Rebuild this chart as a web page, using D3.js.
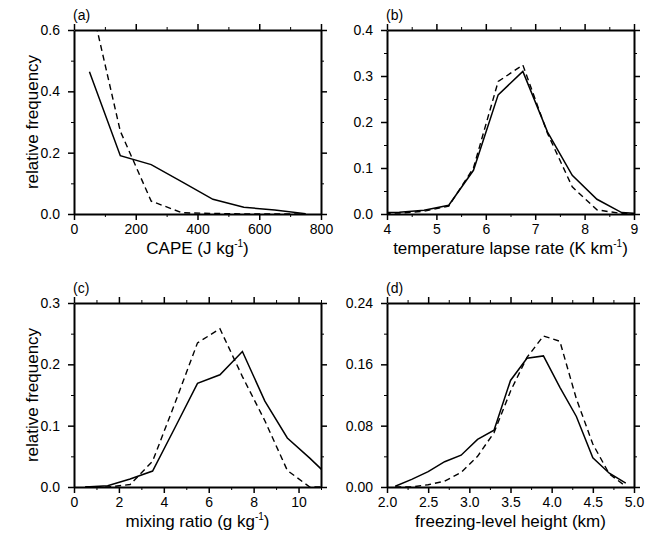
<!DOCTYPE html>
<html>
<head>
<meta charset="utf-8">
<script src="https://cdn.jsdelivr.net/npm/d3@7"></script>
<style>
  body { margin: 0; background: #fff; }
  svg { display: block; font-family: "Liberation Sans", Arial, Helvetica, sans-serif; }
  .axis path, .axis line { stroke: #000; }
  .axis text { fill: #000; }
</style>
</head>
<body>
<div id="chart"></div>
<script>
// bin centres and relative frequencies
const capeBins = [50, 150, 250, 350, 450, 550, 650, 750];
const capeSolid = [0.464, 0.19, 0.161, 0.105, 0.048, 0.022, 0.013, 0.001];
const capeDashed = [0.71, 0.27, 0.042, 0.004, 0.002, 0, 0, 0];

const lapseBins = [3.75, 4.25, 4.75, 5.25, 5.75, 6.25, 6.75, 7.25, 7.75, 8.25, 8.75, 9.25];
const lapseSolid = [0.002, 0.004, 0.008, 0.019, 0.095, 0.259, 0.31, 0.178, 0.084, 0.032, 0.003, 0];
const lapseDashed = [0.001, 0.002, 0.006, 0.017, 0.1, 0.288, 0.324, 0.175, 0.059, 0.009, 0.001, 0];

const mixBins = [0.5, 1.5, 2.5, 3.5, 4.5, 5.5, 6.5, 7.5, 8.5, 9.5, 10.5, 11.5];
const mixSolid = [0, 0.002, 0.013, 0.026, 0.097, 0.169, 0.183, 0.221, 0.14, 0.08, 0.047, 0.012];
const mixDashed = [0, 0, 0.004, 0.042, 0.137, 0.235, 0.258, 0.18, 0.108, 0.027, 0, 0];

const frzBins = [2.1, 2.3, 2.5, 2.7, 2.9, 3.1, 3.3, 3.5, 3.7, 3.9, 4.1, 4.3, 4.5, 4.7, 4.9];
const frzSolid = [0.001, 0.01, 0.02, 0.033, 0.0415, 0.062, 0.074, 0.139, 0.168, 0.171, 0.13, 0.092, 0.038, 0.018, 0.005];
const frzDashed = [0, 0, 0.003, 0.0075, 0.019, 0.04, 0.071, 0.125, 0.169, 0.197, 0.19, 0.115, 0.056, 0.017, 0.001];

const width = 653;
const height = 542;

const panels = [
    { tag: "(a)", x0: 74, y0: 30, bins: capeBins, solid: capeSolid, dashed: capeDashed,
      xDomain: [0, 800], xMajor: d3.range(0, 801, 200), xMinor: d3.range(100, 800, 200), xFmt: d3.format("d"),
      yDomain: [0, 0.6], yMajor: [0, 0.2, 0.4, 0.6], yMinor: [0.1, 0.3, 0.5], yFmt: d3.format(".1f"),
      xTitle: ["CAPE (J kg", "-1", ")"], yTitle: "relative frequency" },
    { tag: "(b)", x0: 387, y0: 30, bins: lapseBins, solid: lapseSolid, dashed: lapseDashed,
      xDomain: [4, 9], xMajor: [4, 5, 6, 7, 8, 9], xMinor: [4.5, 5.5, 6.5, 7.5, 8.5], xFmt: d3.format("d"),
      yDomain: [0, 0.4], yMajor: [0, 0.1, 0.2, 0.3, 0.4], yMinor: [0.05, 0.15, 0.25, 0.35], yFmt: d3.format(".1f"),
      xTitle: ["temperature lapse rate (K km", "-1", ")"], yTitle: null },
    { tag: "(c)", x0: 74, y0: 303, bins: mixBins, solid: mixSolid, dashed: mixDashed,
      xDomain: [0, 11], xMajor: [0, 2, 4, 6, 8, 10], xMinor: [1, 3, 5, 7, 9, 11], xFmt: d3.format("d"),
      yDomain: [0, 0.3], yMajor: [0, 0.1, 0.2, 0.3], yMinor: [0.05, 0.15, 0.25], yFmt: d3.format(".1f"),
      xTitle: ["mixing ratio (g kg", "-1", ")"], yTitle: "relative frequency" },
    { tag: "(d)", x0: 387, y0: 303, bins: frzBins, solid: frzSolid, dashed: frzDashed,
      xDomain: [2, 5], xMajor: [2, 2.5, 3, 3.5, 4, 4.5, 5], xMinor: [2.25, 2.75, 3.25, 3.75, 4.25, 4.75], xFmt: d3.format(".1f"),
      yDomain: [0, 0.24], yMajor: [0, 0.08, 0.16, 0.24], yMinor: [0.04, 0.12, 0.2], yFmt: d3.format(".2f"),
      xTitle: ["freezing-level height (km)"], yTitle: null }
];

const pw = 247, ph = 184;

const svg = d3.select("#chart").append("svg")
    .attr("width", width)
    .attr("height", height);

svg.append("rect").attr("width", width).attr("height", height).attr("fill", "#fff");

panels.forEach(function (p, i) {
    const g = svg.append("g").attr("transform", `translate(${p.x0},${p.y0})`);

    const x = d3.scaleLinear().domain(p.xDomain).range([0, pw]);
    const y = d3.scaleLinear().domain(p.yDomain).range([ph, 0]);

    g.append("clipPath").attr("id", "clip" + i)
        .append("rect").attr("width", pw).attr("height", ph);

    const line = d3.line()
        .x((d, j) => x(p.bins[j]))
        .y(d => y(d));

    const plot = g.append("g").attr("clip-path", `url(#clip${i})`);

    plot.append("path")
        .datum(p.dashed)
        .attr("d", line)
        .attr("fill", "none")
        .attr("stroke", "#000")
        .attr("stroke-width", 1.4)
        .attr("stroke-dasharray", "6,4");

    plot.append("path")
        .datum(p.solid)
        .attr("d", line)
        .attr("fill", "none")
        .attr("stroke", "#000")
        .attr("stroke-width", 1.5);

    // minor ticks on all four sides
    const minorSpecs = [
        [d3.axisBottom(x).tickValues(p.xMinor), `translate(0,${ph})`],
        [d3.axisTop(x).tickValues(p.xMinor), "translate(0,0)"],
        [d3.axisLeft(y).tickValues(p.yMinor), "translate(0,0)"],
        [d3.axisRight(y).tickValues(p.yMinor), `translate(${pw},0)`]
    ];
    minorSpecs.forEach(function (s) {
        g.append("g").attr("class", "axis")
            .attr("transform", s[1])
            .call(s[0].tickSize(3).tickFormat(""))
            .call(a => a.select(".domain").remove())
            .selectAll("line").attr("stroke-width", 1);
    });

    // major ticks and frame
    const bottom = g.append("g").attr("class", "axis")
        .attr("transform", `translate(0,${ph})`)
        .call(d3.axisBottom(x).tickValues(p.xMajor).tickFormat(p.xFmt).tickSize(6).tickSizeOuter(0).tickPadding(4));
    g.append("g").attr("class", "axis")
        .call(d3.axisTop(x).tickValues(p.xMajor).tickFormat("").tickSize(6).tickSizeOuter(0));
    const left = g.append("g").attr("class", "axis")
        .call(d3.axisLeft(y).tickValues(p.yMajor).tickFormat(p.yFmt).tickSize(6).tickSizeOuter(0).tickPadding(8));
    g.append("g").attr("class", "axis")
        .attr("transform", `translate(${pw},0)`)
        .call(d3.axisRight(y).tickValues(p.yMajor).tickFormat("").tickSize(6).tickSizeOuter(0));

    g.selectAll(".axis .domain").attr("stroke-width", 2);
    g.selectAll(".axis .tick line").filter(function () { return !this.getAttribute("stroke-width"); })
        .attr("stroke-width", 1.5);
    bottom.selectAll("text").style("font-size", "14px");
    left.selectAll("text").style("font-size", "14px");

    // panel tag
    g.append("text")
        .attr("x", -1)
        .attr("y", -10)
        .style("font-size", "14px")
        .text(p.tag);

    // x title with superscript
    const xt = g.append("text")
        .attr("x", pw / 2)
        .attr("y", ph + 40)
        .attr("text-anchor", "middle")
        .style("font-size", "17px");
    xt.append("tspan").text(p.xTitle[0]);
    if (p.xTitle.length > 1) {
        xt.append("tspan").attr("dy", -7).style("font-size", "10px").text(p.xTitle[1]);
        xt.append("tspan").attr("dy", 7).text(p.xTitle[2]);
    }

    if (p.yTitle) {
        g.append("text")
            .attr("transform", "rotate(-90)")
            .attr("x", -ph / 2)
            .attr("y", -36)
            .attr("text-anchor", "middle")
            .style("font-size", "17px")
            .text(p.yTitle);
    }
});
</script>
</body>
</html>
